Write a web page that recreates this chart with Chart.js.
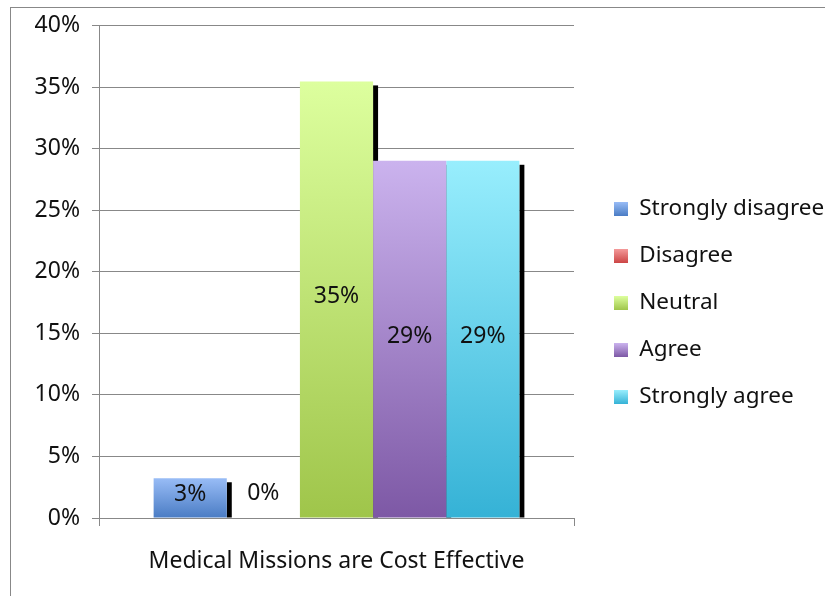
<!DOCTYPE html>
<html>
<head>
<meta charset="utf-8">
<script src="https://cdn.jsdelivr.net/npm/chart.js@4/dist/chart.umd.min.js"></script>
<style>
  html, body { margin: 0; padding: 0; background: #fff; }
  #wrap { width: 825px; height: 596px; position: relative; }
</style>
</head>
<body>
<div id="wrap"><canvas id="chart"></canvas></div>
<script>
// Survey question shown on the category axis
const categories = ['Medical Missions are Cost Effective'];

// Response options (one bar each) and their share of respondents, in percent
const responses = ['Strongly disagree', 'Disagree', 'Neutral', 'Agree', 'Strongly agree'];
const shares = [3.23, 0, 35.48, 29.03, 29.03];

// Value-axis ticks (percent)
const yTickValues = [0, 5, 10, 15, 20, 25, 30, 35, 40];

// Bar fills: light at the top, darker at the base
const topColors    = ['#98bcf6', '#f49a9a', '#ddff9e', '#cbb3ee', '#98eefd'];
const bottomColors = ['#4a7cc4', '#cc4545', '#9fc54a', '#7d58a5', '#35b2d6'];

const FONT = { family: '"Noto Sans", "Open Sans", sans-serif', size: 23 };
const LEGEND_FONT = { family: FONT.family, size: 22.5 };
const TEXT = '#111';
const LINE = '#888';

function barGradient(i) {
  return (ctx) => {
    const chart = ctx.chart;
    if (!chart.chartArea || !chart.scales.y) return bottomColors[i];
    const ys = chart.scales.y;
    const v = ctx.parsed ? ctx.parsed.y : shares[i];
    const top = ys.getPixelForValue(v);
    const base = ys.getPixelForValue(0);
    if (!isFinite(top) || base - top < 1) return bottomColors[i];
    const g = chart.ctx.createLinearGradient(0, top, 0, base);
    g.addColorStop(0, topColors[i]);
    g.addColorStop(1, bottomColors[i]);
    return g;
  };
}

// Legend geometry: the legend box starts at chartRight + gap + padding
const LEGEND_PAD = 24.5;
const BOX = 14;
const measure = document.createElement('canvas').getContext('2d');
measure.font = `${LEGEND_FONT.size}px ${LEGEND_FONT.family}`;
const longest = Math.max(...responses.map(r => measure.measureText(r).width));
const legendWidth = LEGEND_PAD + BOX + LEGEND_FONT.size / 2 + longest + 10;
const PLOT_RIGHT = 574, LEGEND_LEFT = 614 - LEGEND_PAD;
const padRight = 825 - LEGEND_LEFT - legendWidth;

// Outer frame of the chart object, plus gradient swatches for the legend
const framePlugin = {
  id: 'frame',
  beforeDraw(chart) {
    const c = chart.ctx;
    c.save();
    c.fillStyle = '#fff';
    c.fillRect(0, 0, chart.width, chart.height);
    c.strokeStyle = LINE;
    c.lineWidth = 1;
    c.strokeRect(10.5, 7.5, chart.width + 20, chart.height + 20);
    c.restore();
    const lg = chart.legend;
    if (lg && lg.legendItems && lg.legendHitBoxes) {
      lg.legendItems.forEach((item, i) => {
        const hb = lg.legendHitBoxes[i];
        if (!hb) return;
        const t = hb.top + (hb.height - BOX) / 2;
        const g = c.createLinearGradient(0, t, 0, t + BOX);
        g.addColorStop(0, topColors[item.datasetIndex]);
        g.addColorStop(1, bottomColors[item.datasetIndex]);
        item.fillStyle = g;
      });
    }
  }
};

// Dark drop strip on the right side of every bar, drawn beneath the bars
const shadowPlugin = {
  id: 'barShadow',
  beforeDatasetsDraw(chart) {
    const c = chart.ctx;
    c.save();
    c.fillStyle = '#000';
    chart.data.datasets.forEach((ds, i) => {
      chart.getDatasetMeta(i).data.forEach(bar => {
        const { x, y, base, width } = bar.getProps(['x', 'y', 'base', 'width'], true);
        if (base - y < 1) return;
        c.fillRect(x + width / 2, y + 4, 5, base - y - 4);
      });
    });
    c.restore();
  }
};

// Value labels centred in each bar
const valueLabelPlugin = {
  id: 'valueLabels',
  afterDatasetsDraw(chart) {
    const c = chart.ctx;
    c.save();
    c.font = `${FONT.size}px ${FONT.family}`;
    c.fillStyle = TEXT;
    c.textAlign = 'center';
    c.textBaseline = 'middle';
    chart.data.datasets.forEach((ds, i) => {
      chart.getDatasetMeta(i).data.forEach((bar, j) => {
        const { x, y, base } = bar.getProps(['x', 'y', 'base'], true);
        const v = ds.data[j];
        const cy = (base - y < 1) ? base - 25 : (y + base) / 2 - 3;
        c.fillText(Math.round(v) + '%', x, cy);
      });
    });
    c.restore();
  }
};

Chart.defaults.font.family = FONT.family;
Chart.defaults.font.size = FONT.size;
Chart.defaults.color = TEXT;

new Chart(document.getElementById('chart'), {
  type: 'bar',
  data: {
    labels: categories,
    datasets: responses.map((name, i) => ({
      label: name,
      data: [shares[i]],
      backgroundColor: barGradient(i),
      borderWidth: 0,
      categoryPercentage: 0.77,
      barPercentage: 1
    }))
  },
  options: {
    responsive: true,
    maintainAspectRatio: false,
    animation: false,
    layout: { padding: { top: 25, left: 0, bottom: 15, right: padRight } },
    scales: {
      x: {
        grid: { drawOnChartArea: false, tickLength: 8, color: LINE, offset: true },
        border: { color: LINE },
        ticks: { padding: 22, color: TEXT, font: FONT },
        afterFit(s) { s.height = 63; }
      },
      y: {
        min: 0,
        max: 40,
        afterBuildTicks(s) { s.ticks = yTickValues.map(v => ({ value: v })); },
        ticks: { callback: v => v + '%', padding: 12, color: TEXT, font: FONT },
        grid: { color: LINE, tickLength: 7 },
        border: { color: LINE },
        afterFit(s) { s.width = 99; }
      },
      gap: {
        position: 'right',
        display: true,
        grid: { display: false },
        ticks: { display: false },
        border: { display: false },
        afterFit(s) { s.width = LEGEND_LEFT - PLOT_RIGHT; }
      }
    },
    plugins: {
      legend: {
        position: 'right',
        align: 'center',
        maxWidth: 400,
        labels: { boxWidth: BOX, boxHeight: BOX, padding: LEGEND_PAD, color: TEXT, font: LEGEND_FONT }
      },
      tooltip: { enabled: false }
    }
  },
  plugins: [framePlugin, shadowPlugin, valueLabelPlugin]
});
</script>
</body>
</html>
